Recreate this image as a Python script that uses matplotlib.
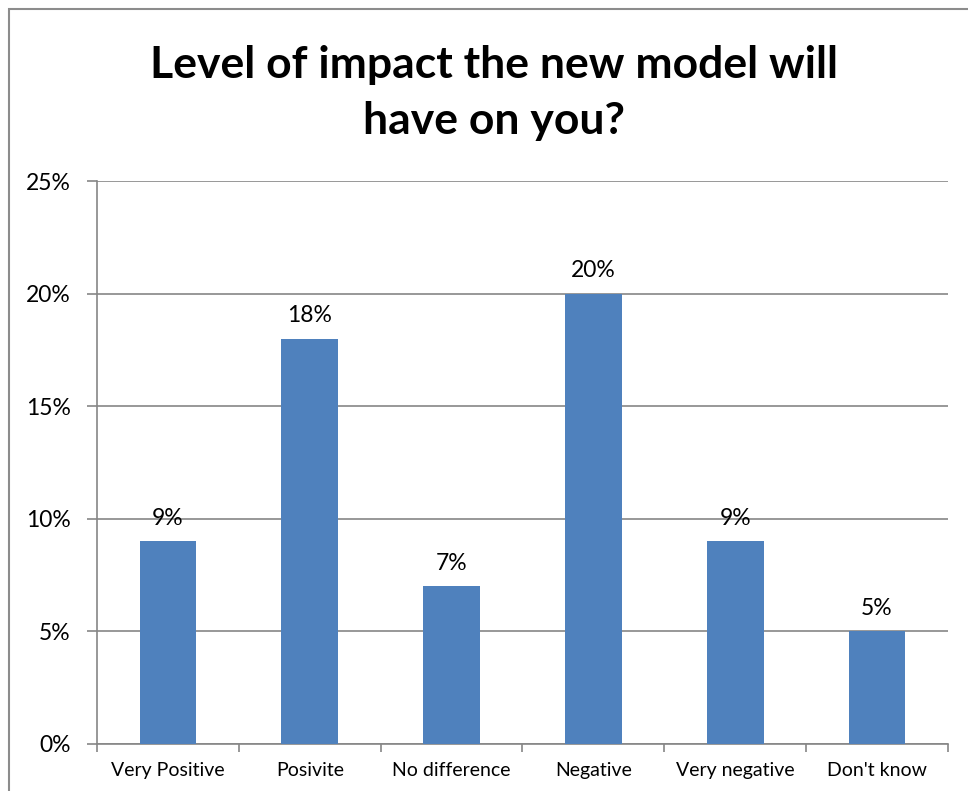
import numpy as np
import matplotlib.pyplot as plt
from matplotlib.patches import Rectangle
from matplotlib.ticker import FuncFormatter, MultipleLocator

categories = ['Very Positive', 'Posivite', 'No difference', 'Negative', 'Very negative', "Don't know"]
percentages = [9, 18, 7, 20, 9, 5]

plt.rcParams['font.family'] = ['Lato', 'DejaVu Sans']

fig = plt.figure(figsize=(9.68, 7.91), dpi=100)
fig.patches.append(Rectangle((9 / 968, -0.1), 1.2, 1 - 9 / 791 + 0.1, transform=fig.transFigure,
                             fill=False, edgecolor='#8c8c8c', linewidth=1.5))

ax = fig.add_axes([97 / 968, 1 - 744 / 791, (948 - 97) / 968, (744 - 181) / 791])
x = np.arange(len(categories))
bars = ax.bar(x, percentages, width=0.4, color='#4f81bd', zorder=3)

for b, v in zip(bars, percentages):
    ax.annotate('{}%'.format(v), (b.get_x() + b.get_width() / 2, v), xytext=(0, 9),
                textcoords='offset points', ha='center', va='bottom', fontsize=16.5)

ax.set_xlim(-0.5, len(categories) - 0.5)
ax.set_ylim(0, 25)
ax.yaxis.set_major_locator(MultipleLocator(5))
ax.yaxis.set_major_formatter(FuncFormatter(lambda v, p: '{:.0f}%'.format(v)))
ax.grid(axis='y', color='#868686', linewidth=1.2, zorder=0)

ax.set_xticks(x)
ax.set_xticklabels(categories, fontsize=14)
ax.set_xticks(np.arange(len(categories) + 1) - 0.5, minor=True)
ax.tick_params(axis='x', which='major', length=0, pad=13)
ax.tick_params(axis='x', which='minor', length=6, color='#868686', width=1.2)
ax.tick_params(axis='y', length=7, color='#868686', width=1.2, labelsize=16.5, pad=12)

for side in ['top', 'right']:
    ax.spines[side].set_visible(False)
for side in ['left', 'bottom']:
    ax.spines[side].set_color('#868686')
    ax.spines[side].set_linewidth(1.2)

fig.text(494 / 968, 1 - 93 / 791, 'Level of impact the new model will\nhave on you?', ha='center', va='center',
         fontsize=32, fontweight='bold', linespacing=1.5)

fig.savefig('out.png', dpi=100)
